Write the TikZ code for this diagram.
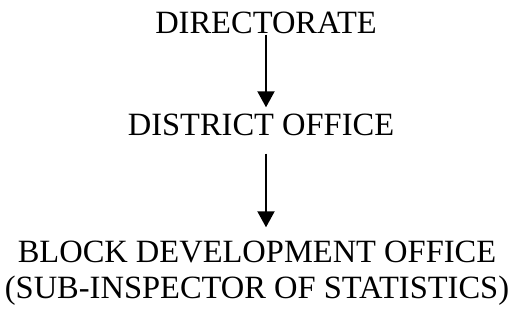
\documentclass[tikz,border=0pt]{standalone}
\usepackage{fontspec}
\setmainfont{Liberation Serif}
\usetikzlibrary{arrows.meta}
\begin{document}
\begin{tikzpicture}[x=1pt,y=1pt,
  lbl/.style={inner sep=0pt, font=\fontsize{32.5}{36}\selectfont, align=center},
  arr/.style={line width=2pt, -{Triangle[width=17pt,length=16pt]}}]
\useasboundingbox (0,0) rectangle (515,-325);
\node[lbl, anchor=base] (dir) at (266,-33) {DIRECTORATE};
\node[lbl, anchor=base] (dist) at (261,-135) {DISTRICT OFFICE};
\node[lbl, anchor=base] (blk) at (257,-298) {BLOCK DEVELOPMENT OFFICE\\(SUB-INSPECTOR OF STATISTICS)};
\draw[arr, shorten <=1pt, shorten >=6pt] (dir.south) -- (dir.south |- dist.north);
\draw[arr, shorten <=18pt, shorten >=13pt] (dist.south -| dir.south) -- (blk.north -| dir.south);
\end{tikzpicture}
\end{document}
